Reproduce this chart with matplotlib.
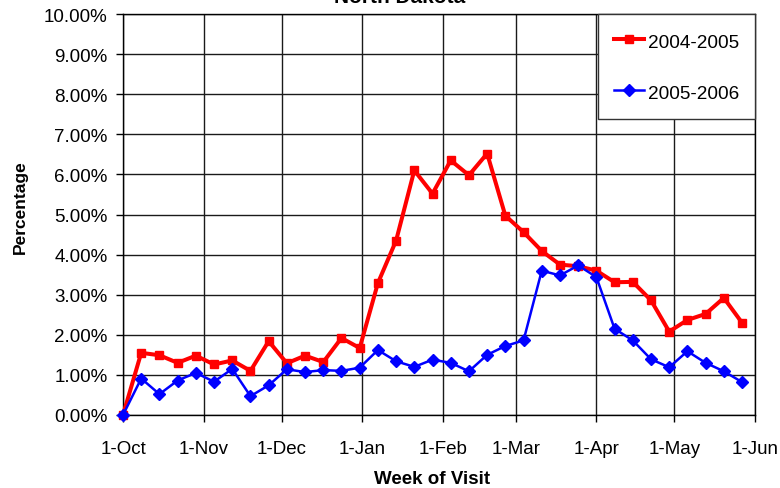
import pandas as pd
import matplotlib
matplotlib.use('Agg')
import matplotlib.pyplot as plt
import matplotlib.dates as mdates
from matplotlib.ticker import PercentFormatter, FuncFormatter

plt.rcParams['font.family'] = ['Liberation Sans', 'DejaVu Sans']

# weekly percentages, season starting 1-Oct
season_a = [0.00, 1.55, 1.49, 1.30, 1.48, 1.26, 1.36, 1.10, 1.84, 1.29,
            1.48, 1.32, 1.92, 1.67, 3.29, 4.35, 6.10, 5.52, 6.35, 5.98,
            6.52, 4.97, 4.56, 4.09, 3.75, 3.71, 3.60, 3.31, 3.32, 2.86,
            2.08, 2.37, 2.52, 2.92, 2.30]
season_b = [0.00, 0.91, 0.52, 0.86, 1.05, 0.83, 1.15, 0.47, 0.74, 1.14,
            1.07, 1.12, 1.10, 1.18, 1.62, 1.34, 1.20, 1.38, 1.30, 1.09,
            1.50, 1.72, 1.86, 3.60, 3.48, 3.73, 3.44, 2.15, 1.86, 1.39,
            1.19, 1.59, 1.30, 1.09, 0.82]
labels = ['2004-2005', '2005-2006']
weeks = pd.date_range('2004-10-01', periods=len(season_a), freq='7D')

fig = plt.figure(figsize=(7.8, 4.89), dpi=100)
ax = fig.add_axes([0.1577, 0.1493, 0.8103, 0.82])

ax.plot(weeks, season_a, color='#ff0000', lw=2.9, marker='s', ms=5.6,
        label=labels[0], clip_on=False, zorder=3)
ax.plot(weeks, season_b, color='#0000ff', lw=1.8, marker='D', ms=6,
        label=labels[1], clip_on=False, zorder=4)

ax.set_xlim(pd.Timestamp('2004-10-01'), pd.Timestamp('2005-06-01'))
ax.set_ylim(0, 10)
ax.yaxis.set_major_locator(plt.MultipleLocator(1))
ax.yaxis.set_major_formatter(PercentFormatter(xmax=100, decimals=2))
ax.xaxis.set_major_locator(mdates.MonthLocator())
ax.xaxis.set_major_formatter(FuncFormatter(
    lambda v, p: '%d-%s' % (mdates.num2date(v).day, mdates.num2date(v).strftime('%b'))))

ax.grid(True, color='#1a1a1a', lw=1.0)
ax.set_axisbelow(True)
for s in ax.spines.values():
    s.set_color('black')
    s.set_linewidth(1.0)
ax.tick_params(axis='y', direction='out', length=4.7, width=1.0, pad=6.5, labelsize=13.5)
ax.tick_params(axis='x', direction='out', length=5, width=1.0, pad=13, labelsize=13.5)

leg = ax.legend(loc='upper right', borderaxespad=0, fontsize=13.7, fancybox=False,
                handlelength=1.55, handleheight=1.35, handletextpad=0.2,
                labelspacing=1.55, borderpad=0.85, framealpha=1)
leg.get_frame().set_edgecolor('#333333')
leg.get_frame().set_linewidth(1)

fig.text(400 / 780, 0.994, 'North Dakota', ha='center', va='baseline',
         fontsize=15, fontweight='bold')
fig.text(20 / 780, 1 - 207.5 / 489, 'Percentage', rotation=90, ha='center', va='center',
         fontsize=12.5, fontweight='bold')
fig.text(432 / 780, 1 - 480 / 489, 'Week of Visit', ha='center', va='center',
         fontsize=13.5, fontweight='bold')

fig.savefig('out.png', dpi=100)
